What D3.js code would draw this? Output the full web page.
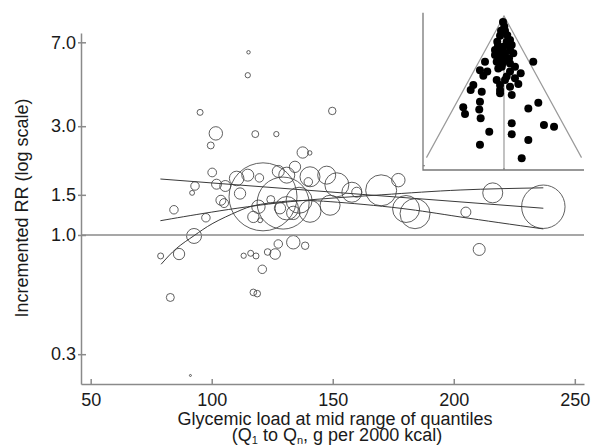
<!DOCTYPE html>
<html>
<head>
<meta charset="utf-8">
<script src="https://cdn.jsdelivr.net/npm/d3@7"></script>
<style>
body { margin: 0; background: #fff; }
text { font-family: "Liberation Sans", Arial, sans-serif; fill: #1a1a1a; }
</style>
</head>
<body>
<svg id="chart" width="592" height="446"></svg>
<script>
// quantile points: glycemic load (g per 2000 kcal), incremented RR, study weight
const glLoad = [115.2,114.9,95.2,101.7,99.6,118.0,126.7,149.8,137.6,140.5,
  100.2,93.1,91.9,84.4,102.0,105.6,103.8,97.6,92.7,86.5,
  78.9,121.2,110.3,114.9,111.7,119.7,124.4,119.3,128.2,117.2,
  120.0,127.5,113.2,116.1,118.3,120.9,123.1,126.2,127.5,133.7,
  138.6,117.2,118.8,82.9,91.2,134.4,139.9,140.6,147.5,151.7,
  148.9,157.9,159.9,170.0,177.1,140.6,136.1,131.0,133.7,180.3,
  184.0,216.1,205.0,237.0,210.5,129.5,105.1,131.0]
const rr = [6.33,5.02,3.45,2.79,2.47,2.77,2.77,3.50,2.30,2.29,
  1.88,1.64,1.53,1.29,1.67,1.64,1.42,1.19,0.99,0.825,
  0.809,1.47,1.77,1.83,1.52,1.78,1.43,1.33,1.31,1.20,
  1.16,1.90,0.811,0.831,0.809,0.707,0.842,0.825,0.913,0.929,
  0.897,0.560,0.553,0.532,0.242,1.99,1.71,1.80,1.83,1.66,
  1.35,1.54,1.54,1.57,1.74,1.27,1.42,1.31,1.25,1.30,
  1.24,1.53,1.26,1.33,0.864,1.38,1.38,1.83]
const weight = [3,7,9,45,12,12,7,14,32,5,
  19,18,6,18,25,30,25,18,56,32,
  9,1156,53,36,32,18,16,45,32,32,
  6,36,7,9,9,18,11,28,18,45,
  14,11,11,16,1,32,18,100,81,144,
  100,100,25,240,45,121,169,137,45,182,
  225,100,25,471,36,676,20,64]

// fitted dose-response curves
const linGL = [78.8, 237]
const linRR = [1.76, 1.31]
const logGL = [78.8, 100, 132.4, 170, 202.6, 237]
const logRR = [1.155, 1.26, 1.40, 1.50, 1.575, 1.61]
const quadGL = [79.1, 85.5, 92.7, 100.5, 110.5, 118.8, 132.4, 148.9, 177.8, 202.6, 237]
const quadRR = [0.744, 0.874, 0.993, 1.125, 1.265, 1.354, 1.41, 1.40, 1.31, 1.20, 1.063]

const xTicks = [50, 100, 150, 200, 250]
const yTicks = [0.3, 1.0, 1.5, 3.0, 7.0]

// funnel plot inset: log RR minus pooled, standard error
const pooledLogRR = 0.34
const funnelDiff = [0.003,0.010,0.033,-0.040,0.061,-0.068,0.027,0.078,-0.007,-0.091,
  -0.048,0.061,0.094,-0.091,-0.040,0.027,-0.007,-0.074,-0.192,0.061,
  0.296,0.111,-0.023,-0.058,-0.243,-0.169,0.061,-0.209,0.169,0.027,
  0.111,-0.074,0.010,0.145,-0.310,-0.040,0.061,-0.337,-0.225,-0.040,
  0.078,-0.040,-0.243,0.347,-0.412,-0.250,0.246,-0.394,-0.236,0.078,
  0.404,0.506,-0.149,0.078,0.246,-0.243,0.179,
  -0.010,-0.030,0.040,-0.061,0.010,-0.020,0.051]
const funnelSE = [0.030,0.042,0.054,0.056,0.068,0.073,0.073,0.082,0.087,0.096,
  0.101,0.096,0.105,0.110,0.115,0.119,0.129,0.129,0.129,0.134,
  0.129,0.143,0.143,0.148,0.153,0.157,0.157,0.169,0.162,0.171,
  0.176,0.181,0.181,0.192,0.195,0.195,0.200,0.209,0.214,0.209,
  0.223,0.218,0.242,0.245,0.258,0.264,0.261,0.277,0.289,0.303,
  0.308,0.313,0.327,0.334,0.350,0.364,0.402,
  0.017,0.042,0.079,0.085,0.105,0.136,0.119]
const seLimit = 0.4

const svg = d3.select("#chart")

const x = d3.scaleLinear().domain([46, 253.8]).range([81, 584])
const y = d3.scaleLog().domain([0.222, 7.69]).range([384, 33])
const r = d3.scaleSqrt().domain([0, 1156]).range([0, 34])

// bubbles
svg.append("g").selectAll("circle")
    .data(glLoad.map((d, i) => [d, rr[i], weight[i]]))
    .enter().append("circle")
    .attr("cx", d => x(d[0]))
    .attr("cy", d => y(d[1]))
    .attr("r", d => r(d[2]))
    .attr("fill", "none")
    .attr("stroke", "#444")
    .attr("stroke-opacity", 0.85)
    .attr("stroke-width", 1)

// reference line at RR = 1
svg.append("line")
    .attr("x1", x.range()[0]).attr("x2", x.range()[1])
    .attr("y1", y(1)).attr("y2", y(1))
    .attr("stroke", "#8a8a8a").attr("stroke-width", 1.5)

// fitted curves
const fitLine = d3.line().x(d => x(d[0])).y(d => y(d[1])).curve(d3.curveNatural)
const fits = [
    linGL.map((d, i) => [d, linRR[i]]),
    logGL.map((d, i) => [d, logRR[i]]),
    quadGL.map((d, i) => [d, quadRR[i]])
]
svg.append("g").selectAll("path")
    .data(fits)
    .enter().append("path")
    .attr("d", fitLine)
    .attr("fill", "none")
    .attr("stroke", "#3a3a3a")
    .attr("stroke-width", 1)

// axes
let xAxis = svg.append("g")
    .attr("transform", "translate(0,384)")
    .call(d3.axisBottom(x).tickValues(xTicks).tickSize(-5).tickSizeOuter(0).tickPadding(9))
let yAxis = svg.append("g")
    .attr("transform", "translate(81,0)")
    .call(d3.axisLeft(y).tickValues(yTicks).tickFormat(d3.format(".1f"))
        .tickSize(3).tickSizeOuter(0).tickPadding(2))
let yInner = svg.append("g")
    .attr("transform", "translate(81,0)")
    .call(d3.axisLeft(y).tickValues(yTicks).tickFormat("").tickSize(-5).tickSizeOuter(0))
yInner.select(".domain").remove()

svg.selectAll(".domain, .tick line").attr("stroke", "#8a8a8a").attr("stroke-width", 1.5)
svg.selectAll(".tick text").style("font-size", "18px").attr("fill", "#1a1a1a")

// axis titles
svg.append("text")
    .attr("transform", "translate(28,208) rotate(-90)")
    .attr("text-anchor", "middle")
    .style("font-size", "18px")
    .text("Incremented RR (log scale)")

svg.append("text")
    .attr("x", 335).attr("y", 424.5)
    .attr("text-anchor", "middle")
    .style("font-size", "18px")
    .text("Glycemic load at mid range of quantiles")

let sub = svg.append("text")
    .attr("x", 337).attr("y", 441)
    .attr("text-anchor", "middle")
    .style("font-size", "18px")
sub.append("tspan").text("(Q")
sub.append("tspan").attr("dy", 3).style("font-size", "11px").text("1")
sub.append("tspan").attr("dy", -3).text(" to  Q")
sub.append("tspan").attr("dy", 3).style("font-size", "11px").text("n")
sub.append("tspan").attr("dy", -3).text(", g per 2000 kcal)")

// inset funnel plot
const ix = d3.scaleLinear().domain([pooledLogRR - 0.819, pooledLogRR + 0.809]).range([423, 584])
const iy = d3.scaleLinear().domain([0, 0.435]).range([16, 170])
const inset = svg.append("g")

inset.append("path")
    .attr("d", d3.line()([[ix.range()[0], iy(-0.009)], [ix.range()[0], iy.range()[1]], [ix.range()[1], iy.range()[1]]]))
    .attr("fill", "none").attr("stroke", "#777").attr("stroke-width", 1.3)

inset.append("path")
    .attr("d", d3.line()([
        [ix(pooledLogRR - 1.96 * seLimit), iy(seLimit)],
        [ix(pooledLogRR), iy(0)],
        [ix(pooledLogRR + 1.96 * seLimit), iy(seLimit)]]))
    .attr("fill", "none").attr("stroke", "#9a9a9a").attr("stroke-width", 1.2)

inset.append("line")
    .attr("x1", ix(pooledLogRR)).attr("x2", ix(pooledLogRR))
    .attr("y1", iy(0)).attr("y2", iy.range()[1])
    .attr("stroke", "#9a9a9a").attr("stroke-width", 1.2)

// tiny ticks
inset.append("line")
    .attr("x1", ix(pooledLogRR)).attr("x2", ix(pooledLogRR))
    .attr("y1", iy.range()[1]).attr("y2", iy.range()[1] - 2)
    .attr("stroke", "#777")
inset.append("line")
    .attr("x1", ix.range()[0]).attr("x2", ix.range()[0] + 2)
    .attr("y1", iy(0.423)).attr("y2", iy(0.423))
    .attr("stroke", "#777")

inset.selectAll("circle")
    .data(funnelDiff.map((d, i) => [pooledLogRR + d, funnelSE[i]]))
    .enter().append("circle")
    .attr("cx", d => ix(d[0]))
    .attr("cy", d => iy(d[1]))
    .attr("r", 4)
    .attr("fill", "#000")
</script>
</body>
</html>
